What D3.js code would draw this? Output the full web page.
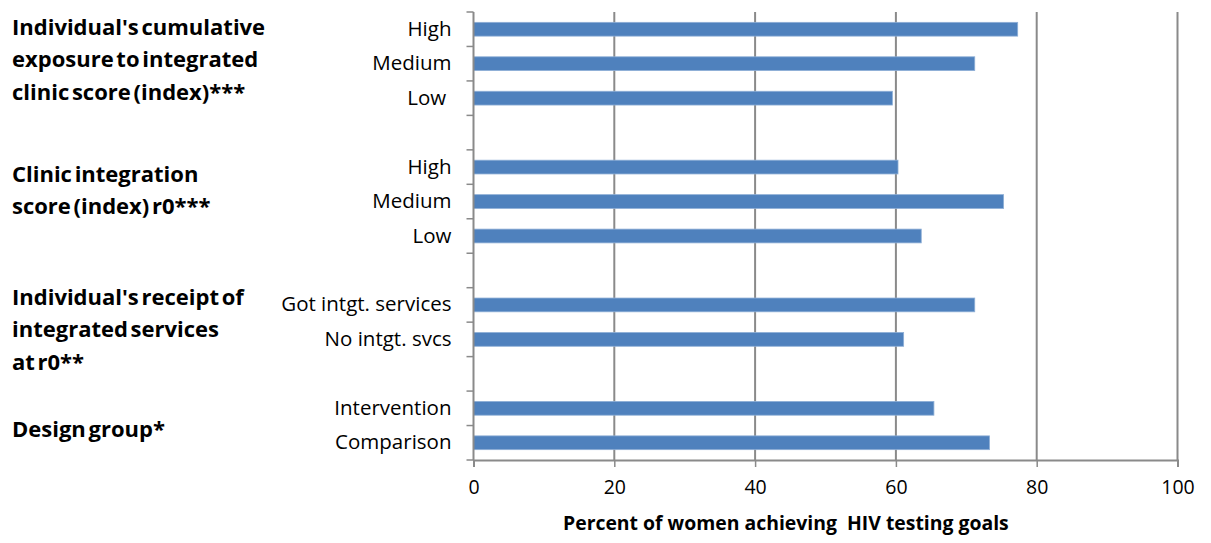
<!DOCTYPE html>
<html>
<head>
<meta charset="utf-8">
<script src="https://cdn.jsdelivr.net/npm/d3@7"></script>
<style>
  body { margin: 0; background: #fff; }
  svg { display: block; font-family: "Open Sans", Lato, sans-serif; }
</style>
</head>
<body>
<svg id="chart" width="1211" height="543"></svg>
<script>
// rows from top to bottom, blank rows are the gaps between groups
var rowLabels = ["High", "Medium", "Low ", "", "High", "Medium", "Low", "",
  "Got intgt. services", "No intgt. svcs", "", "Intervention", "Comparison"];
var rowValues = [77.3, 71.2, 59.5, null, 60.3, 75.3, 63.6, null,
  71.2, 61.1, null, 65.4, 73.3];

var groupTitles = [
  ["Individual's cumulative", "exposure to integrated", "clinic score (index)***"],
  ["Clinic integration", "score (index) r0***"],
  ["Individual's receipt of", "integrated services", "at r0**"],
  ["Design group*"]
];
var xTicks = [0, 20, 40, 60, 80, 100];
var xTitle = "Percent of women achieving\u00a0 HIV testing goals";

var width = 1211, height = 543;
var margin = { top: 12, right: 33.5, bottom: 83, left: 473.5 };
var w = width - margin.left - margin.right;
var h = height - margin.top - margin.bottom;

var svg = d3.select("#chart");
var g = svg.append("g").attr("transform", "translate(" + margin.left + "," + margin.top + ")");

var x = d3.scaleLinear().domain([0, 100]).range([0, w]);
var y = d3.scaleBand().domain(d3.range(rowLabels.length)).range([0, h]).padding(0);
var barH = y.step() * 0.4;

var axisColor = "#8a8a8a";

// vertical gridlines
g.selectAll(".grid")
  .data(xTicks.slice(1))
  .enter().append("line")
  .attr("class", "grid")
  .attr("x1", d => x(d)).attr("x2", d => x(d))
  .attr("y1", 0).attr("y2", h)
  .style("stroke", axisColor)
  .style("stroke-width", 2);

// bars
g.selectAll(".bar")
  .data(rowValues.map((v, i) => ({ v: v, i: i })).filter(d => d.v != null))
  .enter().append("rect")
  .attr("class", "bar")
  .attr("x", x(0))
  .attr("y", d => y(d.i) + (y.step() - barH) / 2)
  .attr("width", d => x(d.v) - x(0))
  .attr("height", barH)
  .style("fill", "#4f81bd")
  .style("stroke", "#8eafd6")
  .style("stroke-width", 0.8);

// y axis line + ticks on band boundaries
g.append("line")
  .attr("x1", 0).attr("x2", 0).attr("y1", 0).attr("y2", h)
  .style("stroke", axisColor).style("stroke-width", 2);
g.selectAll(".ytick")
  .data(d3.range(rowLabels.length + 1))
  .enter().append("line")
  .attr("x1", -7).attr("x2", 0)
  .attr("y1", d => d * y.step()).attr("y2", d => d * y.step())
  .style("stroke", axisColor).style("stroke-width", 1.5);

// row labels
g.selectAll(".rowlabel")
  .data(rowLabels.map((t, i) => ({ t: t, i: i })).filter(d => d.t !== ""))
  .enter().append("text")
  .attr("x", -22)
  .attr("y", d => y(d.i) + y.step() / 2 + 6.5)
  .attr("text-anchor", "end")
  .style("font-size", "20.5px")
  .style("fill", "#000")
  .style("white-space", "pre")
  .text(d => d.t);

// x axis
var xAxis = g.append("g")
  .attr("transform", "translate(0," + h + ")")
  .call(d3.axisBottom(x).tickValues(xTicks).tickSize(7).tickPadding(13));
xAxis.select(".domain").style("stroke", axisColor).style("stroke-width", 2);
xAxis.selectAll(".tick line").style("stroke", axisColor).style("stroke-width", 1.5);
xAxis.selectAll("text").style("font-size", "19.5px").style("fill", "#000")
  .style("font-family", "'Open Sans', Lato, sans-serif");

svg.append("text")
  .attr("x", 563)
  .attr("y", 530)
  .style("font-size", "19.4px")
  .style("font-weight", "bold")
  .text(xTitle);

// group titles on the left
var titleFirstBaseline = [35, 181.5, 305, 436.7];
var lineGap = 32.3;
groupTitles.forEach(function (lines, k) {
  var t = svg.append("text")
    .attr("x", 12)
    .attr("y", titleFirstBaseline[k])
    .style("font-size", "22px")
    .style("font-weight", "bold")
    .style("word-spacing", "-3px");
  lines.forEach(function (line, j) {
    t.append("tspan").attr("x", 12).attr("dy", j === 0 ? 0 : lineGap).text(line);
  });
});
</script>
</body>
</html>
